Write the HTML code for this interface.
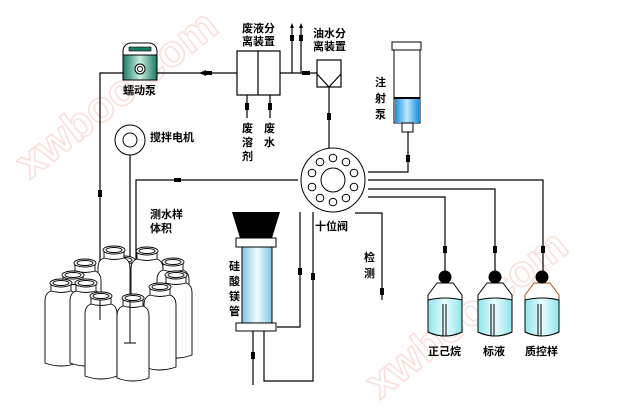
<!DOCTYPE html>
<html><head><meta charset="utf-8"><style>
body{margin:0;background:#fff;}
svg{display:block;font-family:"Liberation Sans","Noto Sans CJK SC",sans-serif;}
.t{font-size:11px;font-weight:bold;fill:#000;}
</style></head><body>
<svg width="622" height="412" viewBox="0 0 622 412" xmlns="http://www.w3.org/2000/svg">
<defs>
<linearGradient id="tube" x1="0" x2="1"><stop offset="0" stop-color="#7fc8e0"/><stop offset="0.5" stop-color="#f0fbff"/><stop offset="1" stop-color="#7fc8e0"/></linearGradient>
<linearGradient id="syr" x1="0" x2="1"><stop offset="0" stop-color="#1a8fe0"/><stop offset="0.5" stop-color="#bfe8ff"/><stop offset="1" stop-color="#1a8fe0"/></linearGradient>
<linearGradient id="liq" x1="0" x2="1"><stop offset="0" stop-color="#8ee6ec"/><stop offset="0.5" stop-color="#e8fbfc"/><stop offset="1" stop-color="#8ee6ec"/></linearGradient>
<linearGradient id="pump" x1="0" x2="1"><stop offset="0" stop-color="#1c7a66"/><stop offset="0.5" stop-color="#c8eee0"/><stop offset="1" stop-color="#1c7a66"/></linearGradient>
<g id="b" stroke="#000" stroke-width="0.9" fill="#fff"><path d="M-16 18 Q-16 10 -10 8 V0 H10 V8 Q16 10 16 18 V80 Q0 86 -16 80 Z"/><ellipse cx="0" cy="0" rx="11" ry="4"/><ellipse cx="0" cy="0" rx="8" ry="2.5"/><path d="M-10 8 Q0 11 10 8" fill="none"/></g>
</defs>
<g font-size="44" font-weight="bold" fill="none" stroke="#f7d0c8" stroke-width="1.5" opacity="0.7">
<text transform="translate(30,180) rotate(-38)">xwboo.com</text>
<text transform="translate(380,400) rotate(-38)">xwboo.com</text>
</g>
<g stroke="#000" stroke-width="1.2" fill="none">
<path d="M100 320 V73 H237"/>
<path d="M280 73 H317"/>
<path d="M292 27 V73 M301 27 V73"/>
<rect x="237" y="51" width="43" height="44" fill="#fff"/>
<path d="M258 51 V95"/>
<path d="M247 95 V118 M270 95 V118"/>
<rect x="317" y="60" width="24" height="27" fill="#fff"/>
<path d="M317 74 L329 87 L341 74"/>
<path d="M329 87 V148"/>
<path d="M408 132 V172 H368"/>
<path d="M368 180 H543 V285"/>
<path d="M368 189 H495 V285"/>
<path d="M368 197 H445 V285"/>
<path d="M355 213 H382 V300"/>
<path d="M298 180 H136 V300"/>
<path d="M130 155 V340"/>
<path d="M300 212 V327 H277"/>
<path d="M313 212 V381 H264 V331"/>
<path d="M253 331 V385"/>
</g>
<g fill="#000">
<path d="M205 71 h7 v4 h-7z"/><path d="M199 73 l7 -3 v6z"/>
<path d="M302 71 h8 v4 h-8z"/>
<path d="M290 28 l2 -5 l2 5z M299 28 l2 -5 l2 5z"/>
<path d="M290 35 h4 v6 h-4z M299 35 h4 v6 h-4z"/>
<path d="M245 103 h4 v7 h-4z M268 103 h4 v7 h-4z"/>
<path d="M327 113 h4 v7 h-4z"/>
<path d="M406 155 h4 v7 h-4z"/>
<path d="M443 246 h4 v7 h-4z M493 246 h4 v7 h-4z M541 246 h4 v7 h-4z"/>
<path d="M380 288 h4 v7 h-4z"/>
<path d="M174 178 h7 v4 h-7z"/>
<path d="M98 190 h4 v7 h-4z"/>
<path d="M298 268 h4 v7 h-4z M311 273 h4 v7 h-4z"/>
<path d="M251 352 h4 v7 h-4z"/>
</g>
<rect x="123" y="43" width="34" height="37" rx="8" fill="#fff" stroke="#000"/>
<rect x="123" y="55" width="34" height="25" fill="url(#pump)" stroke="#000"/>
<rect x="129" y="47" width="22" height="4" fill="#1c7a66" stroke="#000" stroke-width="0.6"/>
<circle cx="140" cy="69" r="5" fill="#fff" stroke="#000"/><circle cx="140" cy="69" r="2.5" fill="none" stroke="#000"/>
<text class="t" x="123" y="94">蠕动泵</text>
<circle cx="130" cy="140" r="15" fill="#fff" stroke="#000"/>
<circle cx="130" cy="140" r="7" fill="none" stroke="#000"/>
<text class="t" x="150" y="141">搅拌电机</text>
<text class="t" x="242" y="32">废液分</text><text class="t" x="242" y="45">离装置</text>
<text class="t" x="313" y="37">油水分</text><text class="t" x="313" y="50">离装置</text>
<text class="t" x="242" y="132">废</text><text class="t" x="242" y="146">溶</text><text class="t" x="242" y="160">剂</text>
<text class="t" x="264" y="132">废</text><text class="t" x="264" y="146">水</text>
<text class="t" x="375" y="86">注</text><text class="t" x="375" y="102">射</text><text class="t" x="375" y="118">泵</text>
<text class="t" x="150" y="218">测水样</text><text class="t" x="150" y="232">体积</text>
<text class="t" x="315" y="230">十位阀</text>
<text class="t" x="364" y="261">检</text><text class="t" x="364" y="277">测</text>
<text class="t" x="229" y="270">硅</text><text class="t" x="229" y="285">酸</text><text class="t" x="229" y="300">镁</text><text class="t" x="229" y="315">管</text>
<text class="t" x="428" y="355">正己烷</text><text class="t" x="483" y="355">标液</text><text class="t" x="525" y="355">质控样</text>
<rect x="392" y="42" width="29" height="8" fill="#fff" stroke="#000"/>
<rect x="394" y="50" width="26" height="73" fill="#fff" stroke="#000"/>
<rect x="395" y="98" width="24" height="25" fill="url(#syr)"/>
<rect x="394" y="97" width="26" height="2" fill="#000"/>
<rect x="402" y="123" width="11" height="9" fill="#fff" stroke="#000"/>
<circle cx="333" cy="180" r="32" fill="#fff" stroke="#000"/>
<circle cx="333" cy="180" r="12" fill="none" stroke="#000"/>
<g fill="none" stroke="#000">
<circle cx="333" cy="158" r="3.8"/><circle cx="346" cy="162" r="3.8"/><circle cx="354" cy="173" r="3.8"/><circle cx="354" cy="187" r="3.8"/><circle cx="346" cy="198" r="3.8"/><circle cx="333" cy="202" r="3.8"/><circle cx="320" cy="198" r="3.8"/><circle cx="312" cy="187" r="3.8"/><circle cx="312" cy="173" r="3.8"/><circle cx="320" cy="162" r="3.8"/>
</g>
<path d="M232 212 H280 L272 238 H240 Z" fill="#000"/>
<rect x="236" y="238" width="40" height="9" fill="#fff" stroke="#000"/>
<rect x="242" y="247" width="30" height="76" fill="url(#tube)" stroke="#000"/>
<rect x="236" y="323" width="40" height="8" fill="#fff" stroke="#000"/>
<g stroke="#000" stroke-width="1">
<g transform="translate(445,0)">
<path d="M-8 283 L-17 295 V332 Q0 340 17 332 V295 L8 283 Z" fill="#fff"/>
<path d="M-17 300 Q0 296 17 300 V332 Q0 340 -17 332Z" fill="url(#liq)"/>
<path d="M-2 304 V336 M1 304 V336"/>
<circle cx="0" cy="277" r="6" fill="#000"/>
</g>
<g transform="translate(495,0)">
<path d="M-8 283 L-17 295 V332 Q0 340 17 332 V295 L8 283 Z" fill="#fff"/>
<path d="M-17 300 Q0 296 17 300 V332 Q0 340 -17 332Z" fill="url(#liq)"/>
<path d="M-4 304 V336 M-1 304 V336"/>
<circle cx="0" cy="277" r="6" fill="#000"/>
</g>
<g transform="translate(542,0)">
<path d="M-8 283 L-17 295 V332 Q0 340 17 332 V295 L8 283 Z" fill="#fff" stroke="#a05020"/>
<path d="M-17 300 Q0 296 17 300 V332 Q0 340 -17 332Z" fill="url(#liq)"/>
<path d="M-4 304 V336 M-1 304 V336"/>
<circle cx="0" cy="277" r="6" fill="#000"/>
</g>
</g>
<use href="#b" x="124" y="260"/>
<use href="#b" x="114" y="250"/>
<use href="#b" x="147" y="251"/>
<use href="#b" x="85" y="263"/>
<use href="#b" x="173" y="262"/>
<use href="#b" x="73" y="275"/>
<use href="#b" x="176" y="275"/>
<use href="#b" x="61" y="283"/>
<use href="#b" x="86" y="283"/>
<use href="#b" x="160" y="287"/>
<use href="#b" x="101" y="296"/>
<use href="#b" x="133" y="298"/>
<path d="M100 300 V320 M130 300 V343 M124 343 H136" stroke="#000" fill="none"/>
</svg>
</body></html>
